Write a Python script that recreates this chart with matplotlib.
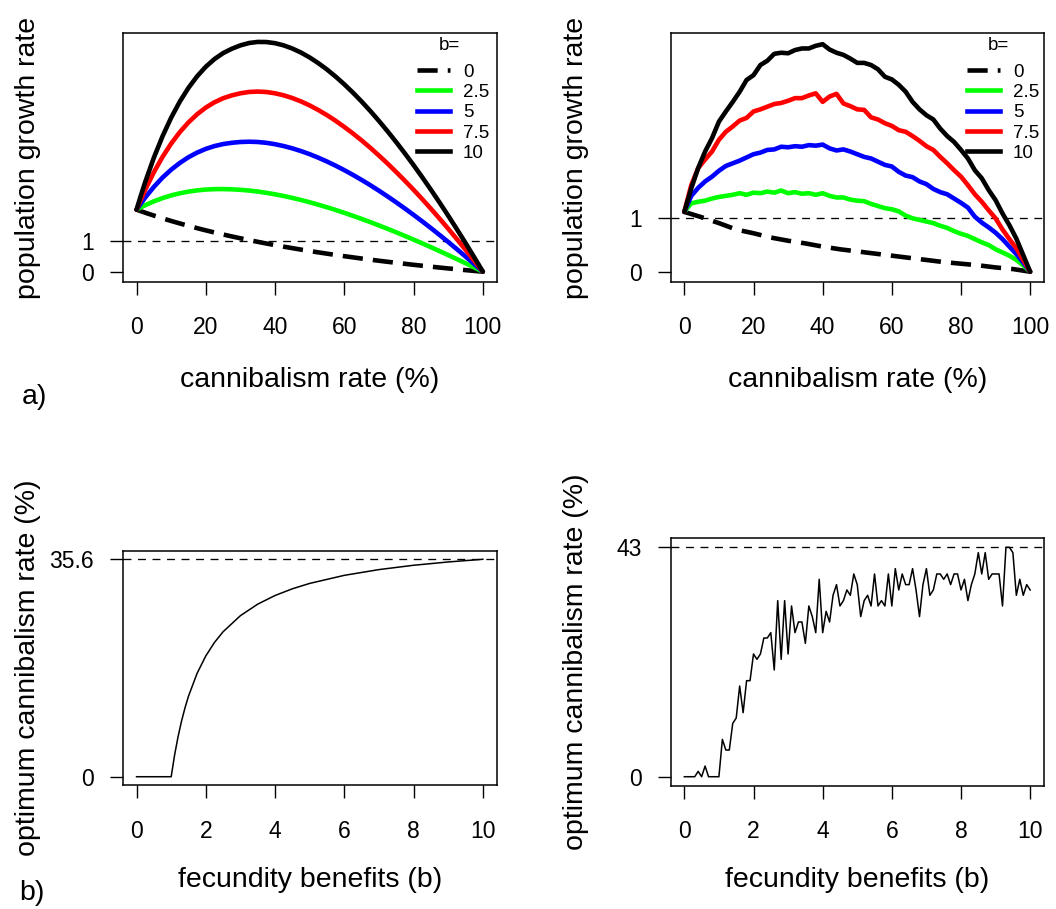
import matplotlib
matplotlib.use('Agg')
import matplotlib.pyplot as plt
from matplotlib.lines import Line2D

plt.rcParams['font.family'] = ['Liberation Sans', 'DejaVu Sans']

# ---------------- data ----------------
b_levels = ['0', '2.5', '5', '7.5', '10']
colors = ['black', '#00FF00', '#0000FF', '#FF0000', 'black']

# panel a (left): analytical growth rate vs cannibalism rate (%)
c_left = [0, 1.25, 2.5, 5, 7.5, 10, 12.5, 15, 17.5, 20, 22.5, 25, 27.5, 30, 32.5, 35, 37.5, 40, 42.5,
          45, 47.5, 50, 52.5, 55, 57.5, 60, 62.5, 65, 67.5, 70, 72.5, 75, 77.5, 80, 82.5, 85, 87.5,
          90, 92.5, 95, 97.5, 98.75, 100]
left_b0 = [2, 1.951, 1.902, 1.810, 1.721, 1.636, 1.556, 1.478, 1.404, 1.333, 1.265, 1.2, 1.137, 1.077,
           1.019, 0.963, 0.909, 0.857, 0.807, 0.759, 0.712, 0.667, 0.623, 0.581, 0.540, 0.5, 0.462,
           0.424, 0.388, 0.353, 0.319, 0.286, 0.254, 0.222, 0.192, 0.162, 0.133, 0.105, 0.078, 0.051,
           0.025, 0.013, 0]
left_b25 = [2, 2.076, 2.144, 2.269, 2.373, 2.460, 2.529, 2.583, 2.623, 2.649, 2.663, 2.665, 2.657,
            2.641, 2.617, 2.585, 2.543, 2.496, 2.441, 2.380, 2.312, 2.239, 2.160, 2.078, 1.990, 1.898,
            1.802, 1.703, 1.599, 1.492, 1.382, 1.269, 1.153, 1.035, 0.914, 0.790, 0.664, 0.536, 0.406,
            0.273, 0.138, 0.069, 0]
left_b5 = [2, 2.202, 2.393, 2.736, 3.035, 3.291, 3.509, 3.693, 3.842, 3.961, 4.052, 4.117, 4.158,
           4.184, 4.193, 4.184, 4.157, 4.112, 4.052, 3.978, 3.890, 3.790, 3.677, 3.553, 3.419, 3.275,
           3.122, 2.960, 2.791, 2.612, 2.427, 2.236, 2.037, 1.833, 1.623, 1.407, 1.185, 0.958, 0.726,
           0.489, 0.247, 0.124, 0]
left_b75 = [2, 2.332, 2.642, 3.209, 3.703, 4.133, 4.503, 4.817, 5.080, 5.295, 5.465, 5.595, 5.687,
            5.755, 5.798, 5.811, 5.796, 5.754, 5.689, 5.601, 5.492, 5.363, 5.214, 5.049, 4.867, 4.669,
            4.458, 4.234, 3.997, 3.746, 3.486, 3.214, 2.932, 2.641, 2.340, 2.030, 1.712, 1.385, 1.050,
            0.708, 0.357, 0.180, 0]
left_b10 = [2, 2.460, 2.892, 3.678, 4.368, 4.970, 5.489, 5.932, 6.304, 6.612, 6.859, 7.051, 7.191,
            7.301, 7.377, 7.412, 7.408, 7.371, 7.300, 7.198, 7.068, 6.910, 6.726, 6.521, 6.292, 6.043,
            5.774, 5.488, 5.184, 4.863, 4.527, 4.177, 3.813, 3.437, 3.046, 2.644, 2.231, 1.806, 1.370,
            0.924, 0.467, 0.235, 0]

# panel a (right): simulated growth rate vs cannibalism rate (%)
c_right0 = [0, 5, 10, 15, 20, 25, 30, 35, 40, 45, 50, 55, 60, 65, 70, 75, 80, 85, 90, 95, 100]
right_b0 = [1.12, 1.02, 0.91, 0.79, 0.72, 0.64, 0.58, 0.53, 0.47, 0.42, 0.38, 0.34, 0.30, 0.26, 0.22,
            0.18, 0.15, 0.12, 0.08, 0.05, 0]
c_right = list(range(0, 101, 2))
right_b25 = [1.12, 1.28, 1.31, 1.33, 1.37, 1.40, 1.42, 1.44, 1.47, 1.44, 1.48, 1.47, 1.50, 1.48, 1.52,
             1.47, 1.49, 1.46, 1.47, 1.44, 1.47, 1.42, 1.39, 1.39, 1.35, 1.33, 1.32, 1.27, 1.23, 1.19,
             1.17, 1.13, 1.05, 1.00, 0.97, 0.94, 0.91, 0.86, 0.82, 0.76, 0.71, 0.67, 0.61, 0.55, 0.50,
             0.42, 0.36, 0.30, 0.22, 0.12, 0]
right_b5 = [1.12, 1.42, 1.57, 1.69, 1.78, 1.89, 1.98, 2.03, 2.08, 2.14, 2.20, 2.23, 2.28, 2.29, 2.34,
            2.33, 2.35, 2.34, 2.37, 2.36, 2.38, 2.31, 2.27, 2.29, 2.25, 2.20, 2.15, 2.12, 2.06, 2.00,
            1.97, 1.87, 1.80, 1.77, 1.69, 1.64, 1.55, 1.49, 1.45, 1.37, 1.29, 1.20, 1.03, 0.92, 0.83,
            0.73, 0.61, 0.47, 0.33, 0.17, 0]
right_b75 = [1.12, 1.62, 1.94, 2.10, 2.25, 2.47, 2.62, 2.72, 2.83, 2.88, 3.00, 3.04, 3.09, 3.14, 3.16,
             3.20, 3.25, 3.25, 3.30, 3.34, 3.18, 3.28, 3.33, 3.15, 3.10, 3.04, 3.03, 2.89, 2.85, 2.78,
             2.73, 2.65, 2.62, 2.54, 2.45, 2.35, 2.28, 2.15, 2.03, 1.90, 1.78, 1.62, 1.45, 1.31, 1.15,
             1.00, 0.79, 0.61, 0.44, 0.22, 0]
right_b10 = [1.12, 1.56, 1.94, 2.25, 2.50, 2.81, 3.00, 3.18, 3.37, 3.59, 3.68, 3.87, 3.95, 4.08, 4.10,
             4.09, 4.15, 4.18, 4.18, 4.23, 4.26, 4.16, 4.10, 4.06, 3.99, 3.91, 3.91, 3.87, 3.79, 3.65,
             3.60, 3.50, 3.37, 3.18, 3.04, 2.93, 2.85, 2.68, 2.54, 2.43, 2.28, 2.12, 1.90, 1.75, 1.53,
             1.34, 1.09, 0.87, 0.62, 0.31, 0]

# panel b (left): analytical optimum cannibalism rate vs fecundity benefit
b_left = [0, 0.5, 1, 1.1, 1.2, 1.3, 1.4, 1.5, 1.75, 2, 2.25, 2.5, 3, 3.5, 4, 4.5, 5, 6, 7, 8, 9, 10]
opt_left = [0, 0, 0, 3.60, 6.59, 9.13, 11.30, 13.19, 16.95, 19.78, 21.98, 23.74, 26.37, 28.26, 29.67,
            30.77, 31.65, 32.97, 33.91, 34.62, 35.16, 35.6]

# panel b (right): simulated optimum cannibalism rate, b = 0, 0.1, ..., 10
b_right = [i / 10 for i in range(101)]
opt_right = [0, 0, 0, 0, 1, 0, 2, 0, 0, 0,
             0, 7, 5, 5, 10, 11, 17, 12, 18, 18,
             23, 22, 23, 26, 26, 27, 20, 33, 22, 33,
             23, 32, 27, 29, 29, 25, 32, 30, 27, 37,
             27, 31, 29, 34, 36, 32, 33, 35, 34, 38,
             36, 30, 33, 34, 32, 38, 32, 33, 32, 38,
             32, 39, 35, 38, 36, 36, 39, 35, 30, 36,
             39, 34, 35, 38, 38, 37, 38, 36, 38, 38,
             35, 37, 33, 36, 38, 42, 38, 42, 37, 38,
             38, 38, 32, 43, 43, 42, 34, 37, 34, 36,
             35]

left_curves = [left_b0, left_b25, left_b5, left_b75, left_b10]
left_x = [c_left] * 5
right_curves = [right_b0, right_b25, right_b5, right_b75, right_b10]
right_x = [c_right0, c_right, c_right, c_right, c_right]

# ---------------- layout ----------------
W, H = 1056, 909
fig = plt.figure(figsize=(W / 100, H / 100), dpi=100)


def add_ax(x0, y0, x1, y1):
    return fig.add_axes([x0 / W, 1 - y1 / H, (x1 - x0) / W, (y1 - y0) / H])


def style(ax, xticks, yticks, yticklabels):
    ax.set_xticks(xticks)
    ax.set_yticks(yticks)
    ax.set_yticklabels(yticklabels)
    ax.tick_params(direction='out', length=9.6, width=1.0, labelsize=16.5, colors='black')
    ax.tick_params(axis='x', pad=15.0)
    ax.tick_params(axis='y', pad=11.0)
    for s in ax.spines.values():
        s.set_linewidth(1.1)


LW = 3.3
thick_dash = (0, (4.4, 2.2))
LEG_FS = 13.5


def top_panel(ax, xs, curves, ylim):
    ax.axhline(1, color='black', lw=0.95, linestyle=(0, (6, 5)))
    for i, (c, vals, col) in enumerate(zip(xs, curves, colors)):
        ls = thick_dash if i == 0 else '-'
        ax.plot(c, vals, color=col, lw=LW, linestyle=ls, solid_capstyle='round',
                solid_joinstyle='round', dash_capstyle='butt')
    ax.set_xlim(-4, 104)
    ax.set_ylim(*ylim)
    style(ax, [0, 20, 40, 60, 80, 100], [0, 1], ['0', '1'])
    handles = [Line2D([], [], color=col, lw=LW, linestyle=(thick_dash if i == 0 else '-'))
               for i, col in enumerate(colors)]
    return handles


def legend(ax, handles, x_px):
    ax.legend(handles, b_levels, loc='upper left', bbox_to_anchor=(x_px / W, 1 - 63.5 / H),
              bbox_transform=fig.transFigure, frameon=False, fontsize=LEG_FS, borderpad=0,
              borderaxespad=0, handlelength=1.76, handletextpad=0.7, labelspacing=0.17)


axA1 = add_ax(122.7, 33.3, 496.7, 281.7)
h = top_panel(axA1, left_x, left_curves, (-0.323, 7.69))
legend(axA1, h, 417)
fig.text(449 / W, 1 - 45 / H, 'b=', fontsize=LEG_FS, ha='center', va='center')

axA2 = add_ax(670.5, 33.3, 1044.0, 281.7)
h = top_panel(axA2, right_x, right_curves, (-0.187, 4.464))
legend(axA2, h, 967)
fig.text(998 / W, 1 - 45 / H, 'b=', fontsize=LEG_FS, ha='center', va='center')

axB1 = add_ax(122.7, 550.6, 496.7, 785.4)
axB1.axhline(35.6, color='black', lw=0.95, linestyle=(0, (6, 5)))
axB1.plot(b_left, opt_left, color='black', lw=1.1)
axB1.set_xlim(-0.4, 10.4)
axB1.set_ylim(-1.42, 37.02)
style(axB1, [0, 2, 4, 6, 8, 10], [0, 35.6], ['0', '35.6'])

axB2 = add_ax(670.5, 538.1, 1044.0, 785.9)
axB2.axhline(43, color='black', lw=0.95, linestyle=(0, (6, 5)))
axB2.plot(b_right, opt_right, color='black', lw=1.1)
axB2.set_xlim(-0.4, 10.4)
axB2.set_ylim(-1.72, 44.72)
style(axB2, [0, 2, 4, 6, 8, 10], [0, 43], ['0', '43'])

# axis titles
LFS = 20.5
fig.text(309.7 / W, 1 - 380 / H, 'cannibalism rate (%)', fontsize=LFS, ha='center', va='center')
fig.text(857.3 / W, 1 - 380 / H, 'cannibalism rate (%)', fontsize=LFS, ha='center', va='center')
fig.text(309.7 / W, 1 - 880 / H, 'fecundity benefits (b)', fontsize=LFS, ha='center', va='center')
fig.text(857.3 / W, 1 - 880 / H, 'fecundity benefits (b)', fontsize=LFS, ha='center', va='center')
fig.text(28 / W, 1 - 157.5 / H, 'population growth rate', fontsize=LFS, rotation=90,
         ha='center', va='center')
fig.text(576 / W, 1 - 157.5 / H, 'population growth rate', fontsize=LFS, rotation=90,
         ha='center', va='center')
fig.text(28 / W, 1 - 668 / H, 'optimum cannibalism rate (%)', fontsize=LFS, rotation=90,
         ha='center', va='center')
fig.text(576 / W, 1 - 662 / H, 'optimum cannibalism rate (%)', fontsize=LFS, rotation=90,
         ha='center', va='center')
fig.text(34 / W, 1 - 397 / H, 'a)', fontsize=LFS, ha='center', va='center')
fig.text(32 / W, 1 - 893 / H, 'b)', fontsize=LFS, ha='center', va='center')

fig.savefig('out.png', dpi=100, facecolor='white')
